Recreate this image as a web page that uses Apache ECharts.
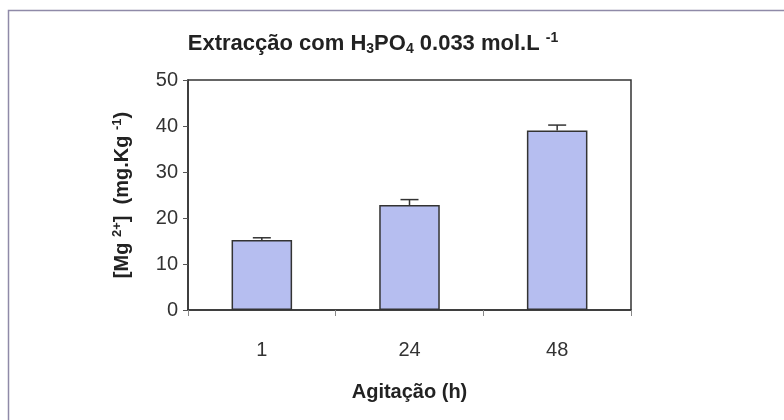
<!DOCTYPE html>
<html>
<head>
<meta charset="utf-8">
<script src="https://cdn.jsdelivr.net/npm/echarts@6/dist/echarts.min.js"></script>
<style>
  html, body { margin: 0; padding: 0; background: #fff; }
  #chart { width: 784px; height: 420px; }
</style>
</head>
<body>
<div id="chart"></div>
<script>
// Agitation times (h) and extracted Mg2+ (mg/kg) with upper error
var categories = ['1', '24', '48'];
var magnesium = [15.2, 22.8, 39.0];
var errorUp = [0.5, 1.2, 1.2];
var yTicks = [0, 10, 20, 30, 40, 50];

var font = '"Liberation Sans", Arial, sans-serif';
var chart = echarts.init(document.getElementById('chart'));

chart.setOption({
  animation: false,
  backgroundColor: '#ffffff',
  textStyle: { fontFamily: font },
  graphic: [{
    type: 'rect',
    shape: { x: 8.5, y: 10.5, width: 900, height: 500 },
    style: { fill: 'none', stroke: '#8f8aa8', lineWidth: 1.5 },
    silent: true
  }],
  title: {
    left: 368,
    top: 26,
    textAlign: 'center',
    text: '{b|Extracção com H}{s|3}{b|PO}{s|4}{b| 0.033 mol.L }{p|-1}',
    textStyle: {
      rich: {
        b: { fontFamily: font, fontWeight: 'bold', fontSize: 22, color: '#222' },
        s: { fontFamily: font, fontWeight: 'bold', fontSize: 14, color: '#222', padding: [11, 0, 0, 0] },
        p: { fontFamily: font, fontWeight: 'bold', fontSize: 14, color: '#222', padding: [0, 0, 11, 0] }
      }
    }
  },
  grid: {
    left: 188, right: 153, top: 80, bottom: 110,
    show: true, borderColor: '#333', borderWidth: 1.5, backgroundColor: 'transparent'
  },
  xAxis: {
    type: 'category',
    data: categories,
    name: 'Agitação (h)',
    nameLocation: 'middle',
    nameGap: 72,
    nameTextStyle: { fontFamily: font, fontWeight: 'bold', fontSize: 20, color: '#222' },
    axisLine: { lineStyle: { color: '#333', width: 1.5 } },
    axisTick: { show: true, inside: false, length: 6, alignWithLabel: false, lineStyle: { color: '#888' } },
    axisLabel: { fontFamily: font, fontSize: 20, color: '#333', margin: 30 }
  },
  yAxis: {
    type: 'value',
    min: 0,
    max: 50,
    interval: 10,
    name: '{b|[Mg }{p|2+}{b|]  (mg.Kg }{p|-1}{b|)}',
    nameLocation: 'middle',
    nameGap: 55,
    nameRotate: 90,
    nameTextStyle: {
      rich: {
        b: { fontFamily: font, fontWeight: 'bold', fontSize: 20, color: '#222' },
        p: { fontFamily: font, fontWeight: 'bold', fontSize: 13, color: '#222', padding: [0, 0, 9, 0] }
      }
    },
    axisLine: { show: true, lineStyle: { color: '#333', width: 1.5 } },
    axisTick: { show: true, inside: false, length: 5, lineStyle: { color: '#555' } },
    axisLabel: {
      fontFamily: font, fontSize: 20, color: '#333', margin: 10,
      formatter: function (v) { return yTicks.indexOf(v) >= 0 ? String(v) : ''; }
    },
    splitLine: { show: false }
  },
  series: [
    {
      type: 'bar',
      data: magnesium,
      barWidth: '41%',
      itemStyle: { color: '#b6bef0', borderColor: '#333', borderWidth: 1.5 },
      z: 2
    },
    {
      // upper error whiskers above each bar
      type: 'custom',
      z: 3,
      data: magnesium.map(function (v, i) { return [i, v, v + errorUp[i]]; }),
      renderItem: function (params, api) {
        var base = api.coord([api.value(0), api.value(1)]);
        var top = api.coord([api.value(0), api.value(2)]);
        var half = 9;
        var style = { stroke: '#333', lineWidth: 1.5 };
        return {
          type: 'group',
          children: [
            { type: 'line', shape: { x1: base[0], y1: base[1], x2: top[0], y2: top[1] }, style: style },
            { type: 'line', shape: { x1: top[0] - half, y1: top[1], x2: top[0] + half, y2: top[1] }, style: style }
          ]
        };
      }
    }
  ]
});
</script>
</body>
</html>
